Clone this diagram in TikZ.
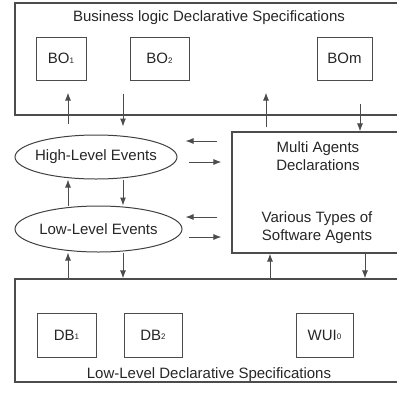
\documentclass[tikz,border=0pt]{standalone}
\usepackage{fontspec}
\setmainfont{Liberation Sans}
\usetikzlibrary{arrows.meta,positioning,calc,shapes.geometric}
\newcommand{\sub}[1]{\raisebox{0.5pt}{\fontsize{8}{9}\selectfont #1}}

\begin{document}
\begin{tikzpicture}[x=1pt,y=-1pt,
    lbl/.style={font=\fontsize{15}{18}\selectfont,align=center,text=black!85},
    bigbox/.style={draw=black!70,line width=1.1pt,inner sep=0pt},
    obox/.style={draw=black!70,line width=1pt,inner sep=0pt,minimum height=43pt,font=\fontsize{15}{17}\selectfont,text=black!85},
    evt/.style={draw=black!75,line width=1pt,ellipse,inner xsep=-12pt,inner ysep=0pt,font=\fontsize{15}{17}\selectfont,text=black!85},
    arr/.style={-{Latex[length=8pt,width=6pt]},line width=1pt,black!70}]
  \useasboundingbox (0,0) rectangle (397,392);
  \clip (0,0) rectangle (397,392);
  % outer specification boxes
  \node[bigbox,minimum width=385pt,minimum height=112pt] (blsp) at (207.5,59) {};
  \node[lbl] (blsptxt) at (209,18) {Business logic Declarative Specifications};
  \node[obox,minimum width=50pt] (bo1) at (61,58.5) {BO\sub{1}};
  \node[obox,minimum width=59pt] (bo2) at (159.5,58.5) {BO\sub{2}};
  \node[obox,minimum width=55pt] (bom) at (344.5,58.5) {BOm};
  \node[bigbox,minimum width=385pt,minimum height=103pt] (llsp) at (207.5,330.5) {};
  \node[lbl] (llsptxt) at (209,375) {Low-Level Declarative Specifications};
  \node[obox,minimum width=59pt,minimum height=44pt] (db1) at (66.5,335) {DB\sub{1}};
  \node[obox,minimum width=58pt,minimum height=44pt] (db2) at (153,335) {DB\sub{2}};
  \node[obox,minimum width=57pt,minimum height=44pt] (wui) at (324.5,335) {WUI\sub{0}};
  % agents
  \node[bigbox,minimum width=168pt,minimum height=121pt] (mag) at (316,192.5) {};
  \node[lbl] (magtxt) at (318,156) {Multi Agents\\Declarations};
  \node[lbl] (vtsa) at (317,228) {Various Types of\\Software Agents};
  % events
  \node[evt,minimum width=162pt,minimum height=44pt] (hi) at (96,157) {High-Level Events};
  \node[evt,minimum width=167pt,minimum height=46pt] (lo) at (98.5,229) {Low-Level Events};
  % columns and rows
  \coordinate (cl) at (68,0);
  \coordinate (cr) at (123,0);
  \coordinate (ca) at (266,0);
  \coordinate (cb) at (360,0);
  \coordinate (cc) at (270,0);
  \coordinate (cd) at (365,0);
  \coordinate (r1) at (0,141);
  \coordinate (r2) at (0,162);
  \coordinate (r3) at (0,217);
  \coordinate (r4) at (0,237);
  % top links
  \draw[arr] ($(blsp.south -| cl)+(0,8)$) -- ($(blsp.south -| cl)+(0,-23)$);
  \draw[arr] ($(blsp.south -| cr)+(0,-22)$) -- ($(hi.north -| cr)+(0,-8)$);
  \draw[arr] ($(mag.north -| ca)+(0,-4)$) -- ($(blsp.south -| ca)+(0,-23)$);
  \draw[arr] ($(blsp.south -| cb)+(0,-12)$) -- (mag.north -| cb);
  % between events
  \draw[arr] (lo.north -| cl) -- (hi.south -| cl);
  \draw[arr] (hi.south -| cr) -- (lo.north -| cr);
  % bottom links
  \draw[arr] (llsp.north -| cl) -- (lo.south -| cl);
  \draw[arr] (lo.south -| cr) -- (llsp.north -| cr);
  \draw[arr] (llsp.north -| cc) -- (mag.south -| cc);
  \draw[arr] (mag.south -| cd) -- (llsp.north -| cd);
  % events <-> agents
  \draw[arr] ($(mag.west |- r1)+(-14,0)$) -- ($(hi.east |- r1)+(8,0)$);
  \draw[arr] ($(hi.east |- r2)+(11,0)$) -- ($(mag.west |- r2)+(-10,0)$);
  \draw[arr] ($(mag.west |- r3)+(-14,0)$) -- ($(hi.east |- r3)+(8,0)$);
  \draw[arr] ($(hi.east |- r4)+(11,0)$) -- ($(mag.west |- r4)+(-10,0)$);
\end{tikzpicture}
\end{document}
